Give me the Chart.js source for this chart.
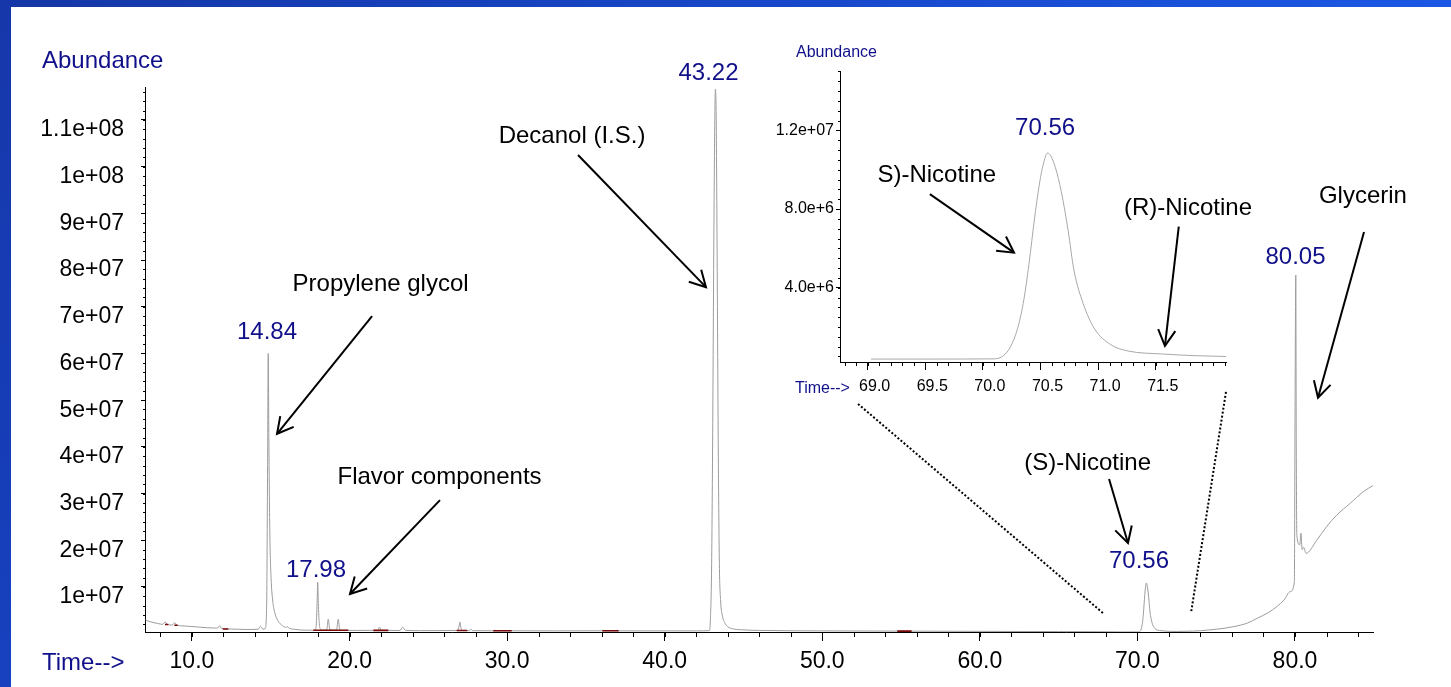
<!DOCTYPE html>
<html>
<head>
<meta charset="utf-8">
<title>GC-MS chromatogram – e-liquid</title>
<script src="https://cdn.jsdelivr.net/npm/chart.js@4.4.1/dist/chart.umd.min.js"></script>
<style>
  html, body { margin: 0; padding: 0; }
  body {
    width: 1451px; height: 687px; overflow: hidden; position: relative;
    background: linear-gradient(90deg, #1536a6 0%, #1745c4 45%, #1b57e4 100%);
  }
  #leftband { position: absolute; left: 0; top: 0; width: 11px; height: 687px;
              background: linear-gradient(180deg, #1637aa 0%, #1741bf 100%); }
  #panel { position: absolute; left: 11px; top: 7px; right: 0; bottom: 0; background: #fff; }
  #main  { position: absolute; left: 0; top: 0; }
  #inset { position: absolute; left: 770px; top: 30px; }
</style>
</head>
<body>
<div id="leftband"></div>
<div id="panel"></div>
<canvas id="main" width="1451" height="687"></canvas>
<canvas id="inset" width="490" height="380"></canvas>
<script>
// ---- Total ion chromatogram: retention time (min) and abundance (counts) ----
const earlyTime = [7.05, 7.4, 7.8, 8.15, 8.3, 8.45, 8.75, 8.9, 9.05, 9.5, 10.5, 11.5, 11.65, 11.75, 11.85,
  12.5, 13.5, 14.2, 14.35, 14.5, 14.65, 14.74, 14.8, 14.84, 14.88, 14.94, 15.02, 15.12, 15.25, 15.45,
  15.75, 15.95, 16.05, 16.15, 16.6, 17.2, 17.8, 17.88, 17.94, 17.98, 18.02, 18.08, 18.16, 18.3, 18.55,
  18.65, 18.75, 19.0, 19.18, 19.28, 19.38, 19.6, 20.5, 21.8, 21.9, 22.0, 23.2, 23.37, 23.55, 24.5,
  26.85, 26.95, 27.0, 27.06, 27.15, 27.6, 27.7, 27.8, 29.0];
const earlyAbundance = [2.9e6, 2.5e6, 2.2e6, 2.0e6, 2.5e6, 1.95e6, 1.85e6, 2.35e6, 1.8e6, 1.65e6, 1.4e6, 1.2e6, 1.25e6, 1.7e6, 1.2e6,
  1.0e6, 0.9e6, 0.95e6, 1.6e6, 0.95e6, 1.1e6, 6.0e6, 3.6e7, 6.0e7, 4.2e7, 2.2e7, 1.2e7, 7.2e6, 4.6e6, 2.8e6,
  1.7e6, 1.35e6, 1.5e6, 1.2e6, 0.9e6, 0.75e6, 0.75e6, 1.5e6, 6.5e6, 1.1e7, 6.5e6, 2.2e6, 1.0e6, 0.75e6, 0.8e6,
  3.1e6, 0.85e6, 0.75e6, 0.85e6, 3.1e6, 0.9e6, 0.72e6, 0.7e6, 0.72e6, 1.4e6, 0.72e6, 0.68e6, 1.4e6, 0.7e6, 0.65e6,
  0.7e6, 1.6e6, 2.5e6, 1.4e6, 0.7e6, 0.65e6, 1.0e6, 0.65e6, 0.62e6];

const midTime = [30.0, 33.0, 36.0, 38.0, 40.0, 42.0, 42.83, 42.9, 42.98, 43.05, 43.12, 43.18, 43.22, 43.27,
  43.33, 43.4, 43.47, 43.55, 43.65, 43.8, 44.0, 44.3, 44.8, 46.0, 50.0, 55.0, 60.0, 65.0, 68.5];
const midAbundance = [0.62e6, 0.6e6, 0.62e6, 0.6e6, 0.6e6, 0.6e6, 0.65e6, 3.0e6, 1.5e7, 4.5e7, 8.5e7, 1.1e8, 1.166e8, 1.1e8,
  8.0e7, 4.0e7, 1.5e7, 7.0e6, 4.0e6, 2.4e6, 1.5e6, 1.05e6, 0.85e6, 0.7e6, 0.6e6, 0.55e6, 0.5e6, 0.45e6, 0.4e6];

// Nicotine window (also shown enlarged)
const nicotineTime = [69.03, 69.6, 70.1, 70.18, 70.24, 70.3, 70.35, 70.4, 70.45, 70.5, 70.53, 70.56, 70.59,
  70.63, 70.68, 70.74, 70.79, 70.87, 70.97, 71.11, 71.26, 71.55, 71.85, 72.11];
const nicotineAbundance = [0.37e6, 0.37e6, 0.38e6, 0.55e6, 1.0e6, 1.9e6, 3.2e6, 5.2e6, 7.6e6, 9.6e6, 10.4e6, 10.85e6, 10.7e6,
  10.1e6, 8.9e6, 6.9e6, 4.9e6, 3.2e6, 1.9e6, 1.1e6, 0.78e6, 0.63e6, 0.54e6, 0.5e6];

const lateTime = [72.5, 73.5, 74.0, 75.0, 76.1, 77.0, 77.6, 78.3, 78.85, 79.3, 79.7, 79.96, 80.0, 80.05, 80.08,
  80.12, 80.3, 80.38, 80.45, 80.55, 80.7, 81.38, 82.0, 82.65, 83.5, 84.33, 84.95];
const lateAbundance = [0.48e6, 0.55e6, 0.64e6, 0.95e6, 1.5e6, 2.3e6, 3.3e6, 4.5e6, 5.8e6, 7.2e6, 9.0e6, 1.11e7, 4.5e7, 7.68e7, 4.0e7,
  2.1e7, 1.9e7, 2.15e7, 1.8e7, 1.85e7, 1.72e7, 2.0e7, 2.29e7, 2.54e7, 2.79e7, 3.04e7, 3.17e7];

// Integration baselines: start/end times and the baseline level under each
const integrationStart = [8.29, 8.88, 11.95, 17.70, 21.51, 26.80, 29.12, 36.04, 54.76];
const integrationEnd   = [8.50, 9.09, 12.31, 19.92, 22.46, 27.47, 30.29, 37.08, 55.67];
const integrationLevel = [1.95e6, 1.8e6, 1.0e6, 0.72e6, 0.7e6, 0.68e6, 0.62e6, 0.62e6, 0.55e6];

// Labelled peak retention times
const mainPeakTimes = [14.84, 17.98, 43.22, 70.56, 80.05];
const insetPeakTimes = [70.56];

// Axis ticks and labels
const xMajorTicks = [10, 20, 30, 40, 50, 60, 70, 80];
const xTickLabels = ['10.0', '20.0', '30.0', '40.0', '50.0', '60.0', '70.0', '80.0'];
const yMajorTicks = [1e7, 2e7, 3e7, 4e7, 5e7, 6e7, 7e7, 8e7, 9e7, 1e8, 1.1e8];
const yTickLabels = ['1e+07', '2e+07', '3e+07', '4e+07', '5e+07', '6e+07', '7e+07', '8e+07', '9e+07', '1e+08', '1.1e+08'];
const insetXTicks = [69.0, 69.5, 70.0, 70.5, 71.0, 71.5];
const insetXLabels = ['69.0', '69.5', '70.0', '70.5', '71.0', '71.5'];
const insetYTicks = [4e6, 8e6, 1.2e7];
const insetYLabels = ['4.0e+6', '8.0e+6', '1.2e+07'];

// ---- Annotation layout (anchors in axis units) ----
const mainNotes = [
  { text: 'Propylene glycol',  at: [21.97, 73.4e6],  from: [21.43, 68.0e6],  to: [15.40, 42.8e6] },
  { text: 'Flavor components', at: [25.71, 32.1e6],  from: [25.74, 28.6e6],  to: [20.03, 8.5e6] },
  { text: 'Decanol (I.S.)',    at: [34.12, 105.1e6], from: [34.50, 102.5e6], to: [42.62, 74.2e6] },
  { text: '(S)-Nicotine',      at: [66.84, 35.05e6], from: [68.20, 33.1e6],  to: [69.40, 19.4e6] },
  { text: 'Glycerin',          at: [84.31, 92.2e6],  from: [84.38, 86.0e6],  to: [81.46, 50.5e6] }
];
const mainPeakLabelAt = [[14.76, 63.0e6], [17.87, 12.2e6], [42.78, 118.5e6], [70.10, 14.15e6], [80.03, 79.25e6]];
const zoomGuides = [
  { from: [52.27, 49.2e6], to: [67.81, 4.43e6] },
  { from: [75.62, 51.76e6], to: [73.40, 4.43e6] }
];
const insetNotes = [
  { text: 'S)-Nicotine',  at: [69.60, 9.37e6], from: [69.54, 8.76e6], to: [70.27, 5.78e6] },
  { text: '(R)-Nicotine', at: [71.78, 7.70e6], from: [71.70, 7.10e6], to: [71.58, 1.04e6] }
];
const insetPeakLabelAt = [[70.54, 11.76e6]];

// ---- Styling ----
const FONT = '"Liberation Sans", Arial, Helvetica, sans-serif';
const NAVY = '#10108a';
Chart.defaults.font.family = FONT;
Chart.defaults.color = '#000';

const toPoints = (xs, ys) => xs.map((x, i) => ({ x: x, y: ys[i] }));
const mainTrace = toPoints(
  earlyTime.concat(midTime, nicotineTime, lateTime),
  earlyAbundance.concat(midAbundance, nicotineAbundance, lateAbundance));
const insetTrace = toPoints(nicotineTime, nicotineAbundance);
const integrationMarks = [];
integrationStart.forEach((s, i) => {
  integrationMarks.push({ x: s, y: integrationLevel[i] }, { x: integrationEnd[i], y: integrationLevel[i] },
                        { x: integrationEnd[i] + 0.01, y: null });
});

function minorValues(start, step, count) {
  const out = [];
  for (let i = 0; i < count; i++) out.push(+(start + i * step).toFixed(6));
  return out;
}
const mainXMinor = minorValues(8, 2, 39);
const mainYMinor = minorValues(2e6, 2e6, 58);
const insetXMinor = minorValues(68.8, 0.1, 34);
const insetYMinor = minorValues(0.5e6, 0.5e6, 30);

function drawMinorTicks(ctx, scale, values, len) {
  ctx.save();
  ctx.strokeStyle = '#000';
  ctx.lineWidth = 1;
  ctx.beginPath();
  for (const v of values) {
    if (v < scale.min || v > scale.max) continue;
    const p = Math.round(scale.getPixelForValue(v)) + 0.5;
    if (scale.isHorizontal()) { ctx.moveTo(p, scale.top); ctx.lineTo(p, scale.top + len); }
    else { ctx.moveTo(scale.right - len, p); ctx.lineTo(scale.right, p); }
  }
  ctx.stroke();
  ctx.restore();
}

function drawText(ctx, str, x, y, size, color, align) {
  ctx.font = size + 'px ' + FONT;
  ctx.fillStyle = color;
  ctx.textAlign = align;
  ctx.textBaseline = 'alphabetic';
  ctx.fillText(str, x, y);
}

function drawArrow(ctx, x1, y1, x2, y2) {
  const a = Math.atan2(y2 - y1, x2 - x1);
  const L = 18, w = 0.5;
  ctx.save();
  ctx.strokeStyle = '#000';
  ctx.lineWidth = 2;
  ctx.beginPath();
  ctx.moveTo(x1, y1); ctx.lineTo(x2, y2);
  ctx.stroke();
  ctx.beginPath();
  ctx.moveTo(x2 - L * Math.cos(a - w), y2 - L * Math.sin(a - w));
  ctx.lineTo(x2, y2);
  ctx.lineTo(x2 - L * Math.cos(a + w), y2 - L * Math.sin(a + w));
  ctx.stroke();
  ctx.restore();
}

function annotate(chart, notes, peakTimes, peakAt, minor) {
  const ctx = chart.ctx, xs = chart.scales.x, ys = chart.scales.y;
  const P = (pt) => [xs.getPixelForValue(pt[0]), ys.getPixelForValue(pt[1])];
  drawMinorTicks(ctx, xs, minor.x, minor.xLen);
  drawMinorTicks(ctx, ys, minor.y, minor.yLen);
  peakTimes.forEach((t, i) => {
    const p = P(peakAt[i]);
    drawText(ctx, t.toFixed(2), p[0], p[1], 24, NAVY, 'center');
  });
  notes.forEach((n) => {
    const p = P(n.at), a = P(n.from), b = P(n.to);
    drawText(ctx, n.text, p[0], p[1], 24, '#000', 'center');
    drawArrow(ctx, a[0], a[1], b[0], b[1]);
  });
}

const mainDecor = {
  id: 'mainDecor',
  afterDraw(chart) {
    const ctx = chart.ctx, area = chart.chartArea, xs = chart.scales.x, ys = chart.scales.y;
    annotate(chart, mainNotes, mainPeakTimes, mainPeakLabelAt,
      { x: mainXMinor, xLen: 5, y: mainYMinor, yLen: 2 });
    // dotted guides leading to the enlarged nicotine window
    ctx.save();
    ctx.strokeStyle = '#000';
    ctx.lineWidth = 2;
    ctx.setLineDash([2, 2]);
    zoomGuides.forEach((g) => {
      ctx.beginPath();
      ctx.moveTo(xs.getPixelForValue(g.from[0]), ys.getPixelForValue(g.from[1]));
      ctx.lineTo(xs.getPixelForValue(g.to[0]), ys.getPixelForValue(g.to[1]));
      ctx.stroke();
    });
    ctx.restore();
    drawText(ctx, 'Abundance', area.left - 103, area.top - 19, 24, NAVY, 'left');
    drawText(ctx, 'Time-->', area.left - 103, area.bottom + 38, 24, NAVY, 'left');
  }
};

const insetDecor = {
  id: 'insetDecor',
  afterDraw(chart) {
    const ctx = chart.ctx, area = chart.chartArea;
    annotate(chart, insetNotes, insetPeakTimes, insetPeakLabelAt,
      { x: insetXMinor, xLen: 4, y: insetYMinor, yLen: 2 });
    drawText(ctx, 'Abundance', area.left - 44, area.top - 14, 16, NAVY, 'left');
    drawText(ctx, 'Time-->', area.left - 45, area.bottom + 31, 16, NAVY, 'left');
  }
};

function axis(opts) {
  return {
    type: 'linear',
    min: opts.min, max: opts.max,
    afterFit: opts.fit,
    afterBuildTicks: (s) => { s.ticks = opts.ticks.map((v) => ({ value: v })); },
    ticks: {
      autoSkip: false, maxRotation: 0, minRotation: 0,
      padding: opts.padding, labelOffset: opts.labelOffset || 0,
      color: '#000', font: { family: FONT, size: opts.fontSize },
      callback: (v, i) => opts.labels[i]
    },
    grid: { drawOnChartArea: false, drawTicks: true, tickLength: opts.tickLength,
            tickColor: '#000', tickWidth: 1, color: '#000' },
    border: { display: true, color: '#000', width: 1 }
  };
}

new Chart(document.getElementById('main'), {
  type: 'line',
  data: {
    datasets: [
      { data: mainTrace, borderColor: '#9c9c9c', borderWidth: 1, pointRadius: 0,
        cubicInterpolationMode: 'monotone', order: 2 },
      { data: integrationMarks, borderColor: '#7a0a0a', borderWidth: 1.6, pointRadius: 0,
        spanGaps: false, order: 1 }
    ]
  },
  options: {
    responsive: false, animation: false, devicePixelRatio: 1,
    layout: { padding: { left: 0, top: 87, right: 78, bottom: 0 } },
    plugins: { legend: { display: false }, tooltip: { enabled: false } },
    scales: {
      x: axis({ min: 7.02, max: 84.95, ticks: xMajorTicks, labels: xTickLabels,
                fit: (s) => { s.height = 55; }, padding: 7, tickLength: 9, fontSize: 23 }),
      y: axis({ min: 3.6e5, max: 1.1705e8, ticks: yMajorTicks, labels: yTickLabels,
                fit: (s) => { s.width = 145; }, padding: 17, tickLength: 4, fontSize: 23, labelOffset: 10 })
    }
  },
  plugins: [mainDecor]
});

new Chart(document.getElementById('inset'), {
  type: 'line',
  data: {
    datasets: [
      { data: insetTrace, borderColor: '#a8a8a8', borderWidth: 1, pointRadius: 0,
        cubicInterpolationMode: 'monotone' }
    ]
  },
  options: {
    responsive: false, animation: false, devicePixelRatio: 1,
    layout: { padding: { left: 0, top: 41, right: 34, bottom: 0 } },
    plugins: { legend: { display: false }, tooltip: { enabled: false } },
    scales: {
      x: axis({ min: 68.76, max: 72.11, ticks: insetXTicks, labels: insetXLabels,
                fit: (s) => { s.height = 48; }, padding: 7, tickLength: 8, fontSize: 16, labelOffset: 7 }),
      y: axis({ min: 0.22e6, max: 15.02e6, ticks: insetYTicks, labels: insetYLabels,
                fit: (s) => { s.width = 70; }, padding: 2, tickLength: 4, fontSize: 16 })
    }
  },
  plugins: [insetDecor]
});
</script>
</body>
</html>
